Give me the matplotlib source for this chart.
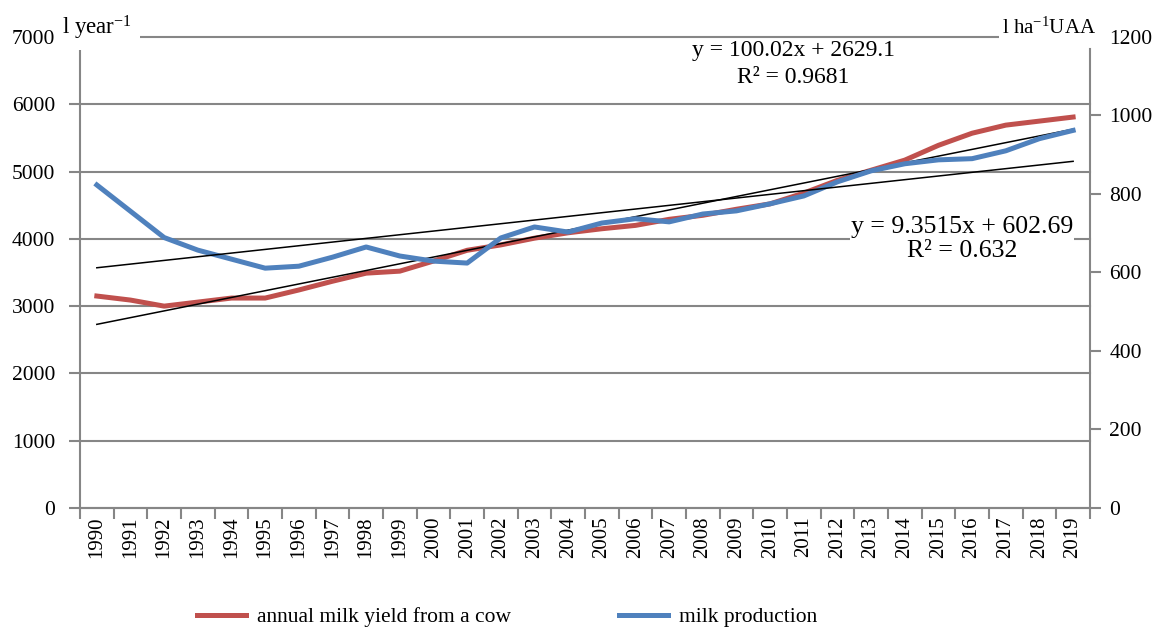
import matplotlib
matplotlib.use("Agg")
import matplotlib.pyplot as plt
import numpy as np

plt.rcParams['font.family'] = ['Liberation Serif', 'DejaVu Serif']
plt.rcParams['mathtext.fontset'] = 'custom'
plt.rcParams['mathtext.rm'] = 'Liberation Serif'
plt.rcParams['mathtext.it'] = 'Liberation Serif:italic'

# data
years = list(range(1990, 2020))
milk_yield = [3150, 3090, 3000, 3060, 3120, 3120, 3240, 3370, 3490, 3520,
              3670, 3830, 3910, 4010, 4090, 4150, 4200, 4290, 4350, 4440,
              4520, 4680, 4870, 5020, 5170, 5390, 5570, 5690, 5750, 5810]
milk_prod = [823, 756, 689, 657, 634, 611, 616, 639, 665, 642,
             629, 624, 688, 716, 703, 726, 737, 729, 749, 757,
             775, 795, 831, 859, 877, 887, 890, 910, 941, 962]
# linear trends shown on the chart (slope, intercept), x = 1..30
trend_yield = (100.02, 2629.1)
trend_prod = (9.3515, 602.69)
eq_yield = "y = 100.02x + 2629.1\nR² = 0.9681"
eq_prod = "y = 9.3515x + 602.69\nR² = 0.632"

red = '#C0504D'
blue = '#4F81BD'
grey = '#868686'

fig = plt.figure(figsize=(11.61, 6.28), dpi=100)
ax = fig.add_axes([0.0689, 0.1911, 0.8699, 0.750])
ax2 = ax.twinx()

x = np.arange(len(years))
xn = x + 1

ax.plot(x, milk_yield, color=red, lw=3.6, zorder=3)
ax.plot(x, trend_yield[0] * xn + trend_yield[1], color='black', lw=1.1, zorder=4)
ax2.plot(x, milk_prod, color=blue, lw=3.6, zorder=3)
ax2.plot(x, trend_prod[0] * xn + trend_prod[1], color='black', lw=1.1, zorder=4)

ax.set_xlim(-0.5, len(years) - 0.5)
ax.set_ylim(0, 7000)
ax2.set_ylim(0, 1200)

ax.set_yticks(range(0, 7001, 1000))
ax2.set_yticks(range(0, 1201, 200))
ax.yaxis.grid(True, color=grey, lw=1.5)
ax.set_axisbelow(True)
for gl in ax.get_ygridlines():
    gl.set_clip_on(False)

# category boundary ticks, labels in the middle
ax.set_xticks(np.arange(-0.5, len(years), 1.0))
ax.set_xticklabels([])
ax.set_xticks(x, minor=True)
ax.set_xticklabels([str(y) for y in years], minor=True, rotation=90, fontsize=15)
ax.tick_params(axis='x', which='major', length=8, width=1.5, color=grey, direction='out')
ax.tick_params(axis='x', which='minor', length=0, pad=6)
ax.tick_params(axis='y', length=8, width=1.5, color=grey, labelsize=15.5, pad=10)
ax2.tick_params(axis='y', length=8, width=1.5, color=grey, labelsize=15.5, pad=6)
ax.yaxis.get_major_ticks()[-1].tick1line.set_visible(False)
ax2.yaxis.get_major_ticks()[-1].tick2line.set_visible(False)

for s in ['top']:
    ax.spines[s].set_visible(False)
    ax2.spines[s].set_visible(False)
ax2.spines['left'].set_visible(False)
ax2.spines['bottom'].set_visible(False)
ax.spines['right'].set_visible(False)
ax.spines['left'].set_color(grey)
ax.spines['left'].set_linewidth(1.5)
ax.spines['left'].set_bounds(0, 6800)
ax.spines['bottom'].set_color(grey)
ax.spines['bottom'].set_linewidth(1.5)
ax2.spines['right'].set_color(grey)
ax2.spines['right'].set_linewidth(1.5)
ax2.spines['right'].set_bounds(0, 1170)

# unit labels with white boxes over the top gridline
fig.text(62 / 1161, 1 - 28 / 628, r"l year$^{-1}$", fontsize=16.5, ha='left', va='center',
         bbox=dict(facecolor='white', edgecolor='none', pad=6))
fig.text(1096 / 1161, 1 - 28 / 628, r"l ha$^{-1}$UAA", fontsize=15, ha='right', va='center',
         bbox=dict(facecolor='white', edgecolor='none', pad=2))

ax2.text(793 / 1161, 1 - 64 / 628, eq_yield, transform=fig.transFigure, fontsize=17,
         ha='center', va='center', linespacing=1.35, zorder=6,
         bbox=dict(facecolor='white', edgecolor='none', pad=1))
ax2.text(962 / 1161, 1 - 239 / 628, eq_prod, transform=fig.transFigure, fontsize=18.5,
         ha='center', va='center', linespacing=1.1, zorder=6,
         bbox=dict(facecolor='white', edgecolor='none', pad=1))

h1, = ax.plot([], [], color=red, lw=3.6)
h2, = ax.plot([], [], color=blue, lw=3.6)
fig.legend([h1, h2], ["annual milk yield from a cow", "milk production"],
           loc='center', bbox_to_anchor=(507 / 1161, 1 - 617 / 628), ncol=2,
           frameon=False, fontsize=15.5, handlelength=2.3, columnspacing=5.0,
           handletextpad=0.5)

fig.savefig("out.png", dpi=100)
